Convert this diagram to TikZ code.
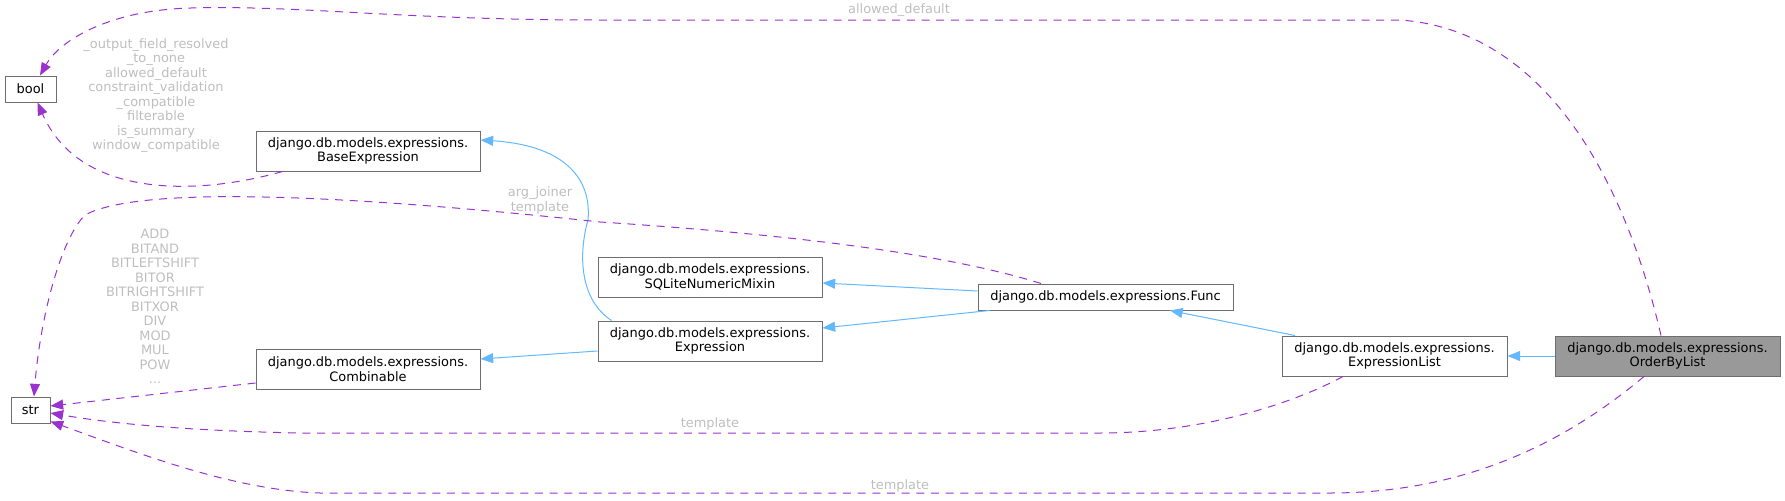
\documentclass[tikz,border=0pt]{standalone}
\usepackage{fontspec}
\setmainfont{DejaVu Sans}
\usetikzlibrary{arrows.meta,calc}
\definecolor{inhblue}{HTML}{63B8FF}
\definecolor{usepurple}{HTML}{9A32CD}
\definecolor{boxborder}{HTML}{6E6E6E}
\definecolor{lblgrey}{HTML}{BEBEBE}
\definecolor{hlfill}{HTML}{999999}
\begin{document}
\begin{tikzpicture}[x=0.75pt,y=-0.75pt,
  every node/.style={font=\fontsize{9.7}{10.9}\selectfont},
  box/.style={draw=boxborder, line width=0.75pt, fill=white, inner sep=0pt, align=center, minimum height=30pt},
  onebox/.style={box, minimum height=19.5pt},
  inh/.style={draw=inhblue, line width=0.75pt, -{Triangle[length=9.5pt,width=7.5pt]}},
  usage/.style={draw=usepurple, line width=0.75pt, dash pattern=on 6pt off 5pt, -{Triangle[length=9.5pt,width=7.5pt]}},
  lbl/.style={text=lblgrey, align=center, inner sep=0pt}]
\useasboundingbox (0,0) rectangle (1785,500);

% nodes
\node[onebox, minimum width=38.25pt] (bool) at (30.5,89) {bool};
\node[onebox, minimum width=29.25pt] (str) at (30.5,410) {str};
\node[box, minimum width=168pt] (base) at (368,151) {django.db.models.expressions.\\BaseExpression};
\node[box, minimum width=168pt] (comb) at (368,369) {django.db.models.expressions.\\Combinable};
\node[box, minimum width=168pt] (sqlite) at (710,277) {django.db.models.expressions.\\SQLiteNumericMixin};
\node[box, minimum width=168pt] (expr) at (710,341) {django.db.models.expressions.\\Expression};
\node[onebox, minimum width=191.25pt] (func) at (1105.5,297) {django.db.models.expressions.Func};
\node[box, minimum width=168.75pt] (elist) at (1394.5,356) {django.db.models.expressions.\\ExpressionList};
\node[box, minimum width=168.75pt, fill=hlfill] (obl) at (1667.5,356) {django.db.models.expressions.\\OrderByList};

% inheritance edges
\draw[inh] (obl.west) -- (elist.east);
\draw[inh] ($(elist.north)+(-99.5,0)$) -- ($(func.south)+(64.5,0)$);
\draw[inh] ($(func.west)+(0,-6)$) -- ($(sqlite.east)+(0,6)$);
\draw[inh] ($(func.south west)+(12,0)$) -- ($(expr.east)+(0,-13)$);
\draw[inh] ($(expr.north west)+(14,0)$) .. controls (580,300) and (578,255) .. (588,220)
  .. controls (592,175) and (560,145) .. ($(base.east)+(0,-11)$);
\draw[inh] ($(expr.west)+(0,10)$) -- ($(comb.east)+(0,-10)$);

% usage edges
\draw[usage] ($(base.south west)+(27,0)$) .. controls (200,195) and (80,200) .. ($(bool.south)+(7,0)$);
\node[lbl] (lbool) at (156,95.5) {\_output\_field\_resolved\\\_to\_none\\allowed\_default\\constraint\_validation\\\_compatible\\filterable\\is\_summary\\window\_compatible};

\draw[usage] ($(obl.north)+(-6.5,0)$) .. controls (1625,180) and (1545,30) .. (1400,20) -- (600,20)
  .. controls (400,20) and (300,5) .. (191,8) .. controls (110,10) and (60,40) .. ($(bool.north)+(9.5,0)$);
\node[lbl] (lallowed) at (899,10) {allowed\_default};

\draw[usage] ($(func.north)+(-64.5,0)$) .. controls (950,255) and (800,235) .. (600,222)
  .. controls (350,195) and (140,185) .. (85,215) .. controls (60,240) and (40,320) .. ($(str.north)+(3.5,0)$);
\node[lbl] (larg) at (540,200.5) {arg\_joiner\\template};

\draw[usage] ($(comb.west)+(0,14)$) -- ($(str.east)+(0,-4)$);
\node[lbl] (lops) at (155,306.5) {ADD\\BITAND\\BITLEFTSHIFT\\BITOR\\BITRIGHTSHIFT\\BITXOR\\DIV\\MOD\\MUL\\POW\\...};

\draw[usage] ($(elist.south)+(-51.5,0)$) .. controls (1290,405) and (1200,433) .. (1100,433) -- (300,433)
  .. controls (200,431) and (120,425) .. ($(str.east)+(0,3)$);
\node[lbl] (ltpl1) at (710,424) {template};

\draw[usage] ($(obl.south)+(-23.5,0)$) .. controls (1580,430) and (1480,493) .. (1330,493) -- (320,493)
  .. controls (230,490) and (130,450) .. ($(str.south east)+(0,-2)$);
\node[lbl] (ltpl2) at (900,486) {template};
\end{tikzpicture}
\end{document}
